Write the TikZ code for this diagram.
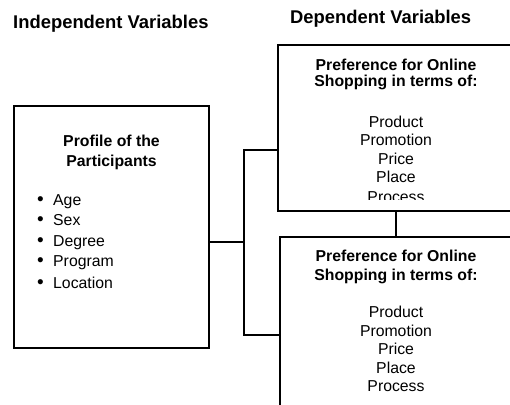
\documentclass[tikz,border=0pt]{standalone}
\usepackage{fontspec}
\setmainfont{Liberation Sans}
\newcommand{\mybul}{\makebox[16pt][l]{\fontsize{19}{18}\selectfont\textbullet}}
\begin{document}
\begin{tikzpicture}[x=1pt,y=-1pt,
  box/.style={draw,line width=1.7pt,inner sep=0,outer sep=0,anchor=north west},
  link/.style={line width=1.7pt},
  ttl/.style={font=\fontsize{18.4}{22}\selectfont\bfseries,anchor=base west,inner sep=0},
  hd/.style={font=\fontsize{15.8}{18}\selectfont\bfseries,anchor=base,inner sep=0},
  it/.style={font=\fontsize{15.8}{18}\selectfont,anchor=base,inner sep=0},
  bl/.style={font=\fontsize{15.8}{18}\selectfont,anchor=base west,inner sep=0}]
\useasboundingbox (0,0) rectangle (510,404);
\clip (0,0) rectangle (510,404);
% titles
\node[ttl] (t1) at (13,28.6) {Independent Variables};
\node[ttl] (t2) at (290,23.6) {Dependent Variables};
% boxes
\node[box,minimum width=195pt,minimum height=242pt] (indep) at (14,106) {};
\node[box,minimum width=250pt,minimum height=166pt] (dep1) at (278,45) {};
\node[box,minimum width=250pt,minimum height=190pt] (dep2) at (280,237) {};
% connectors
\coordinate (ja) at (244,150);
\coordinate (jm) at (244,242);
\coordinate (jb) at (244,335);
\coordinate (jc) at (396,0);
\draw[link] (indep.east |- jm) -- (jm);
\draw[link] (dep1.west |- ja) -- (ja) -- (jb) -- (dep2.west |- jb);
\draw[link] (dep1.south -| jc) -- (dep2.north -| jc);
% left box text
\node[hd] (l1) at (111.5,146.7) {Profile of the};
\node[hd] (l2) at (111.5,166.4) {Participants};
\node[bl] (b1) at (37,205) {\mybul Age};
\node[bl] (b2) at (37,225.7) {\mybul Sex};
\node[bl] (b3) at (37,246.4) {\mybul Degree};
\node[bl] (b4) at (37,266.7) {\mybul Program};
\node[bl] (b5) at (37,288.4) {\mybul Location};
% top right box text
\node[hd] (a1) at (396,70.7) {Preference for Online};
\node[hd] (a2) at (396,86.7) {Shopping in terms of:};
\node[it] (a3) at (396,127.4) {Product};
\node[it] (a4) at (396,145.7) {Promotion};
\node[it] (a5) at (396,164) {Price};
\node[it] (a6) at (396,182.4) {Place};
\begin{scope}
\clip (280,150) rectangle (510,199.5);
\node[it] (a7) at (396,202) {Process};
\end{scope}
% bottom right box text
\node[hd] (c1) at (396,261.7) {Preference for Online};
\node[hd] (c2) at (396,280.2) {Shopping in terms of:};
\node[it] (c3) at (396,317.4) {Product};
\node[it] (c4) at (396,336.4) {Promotion};
\node[it] (c5) at (396,354.7) {Price};
\node[it] (c6) at (396,373.4) {Place};
\node[it] (c7) at (396,391.7) {Process};
\end{tikzpicture}
\end{document}
